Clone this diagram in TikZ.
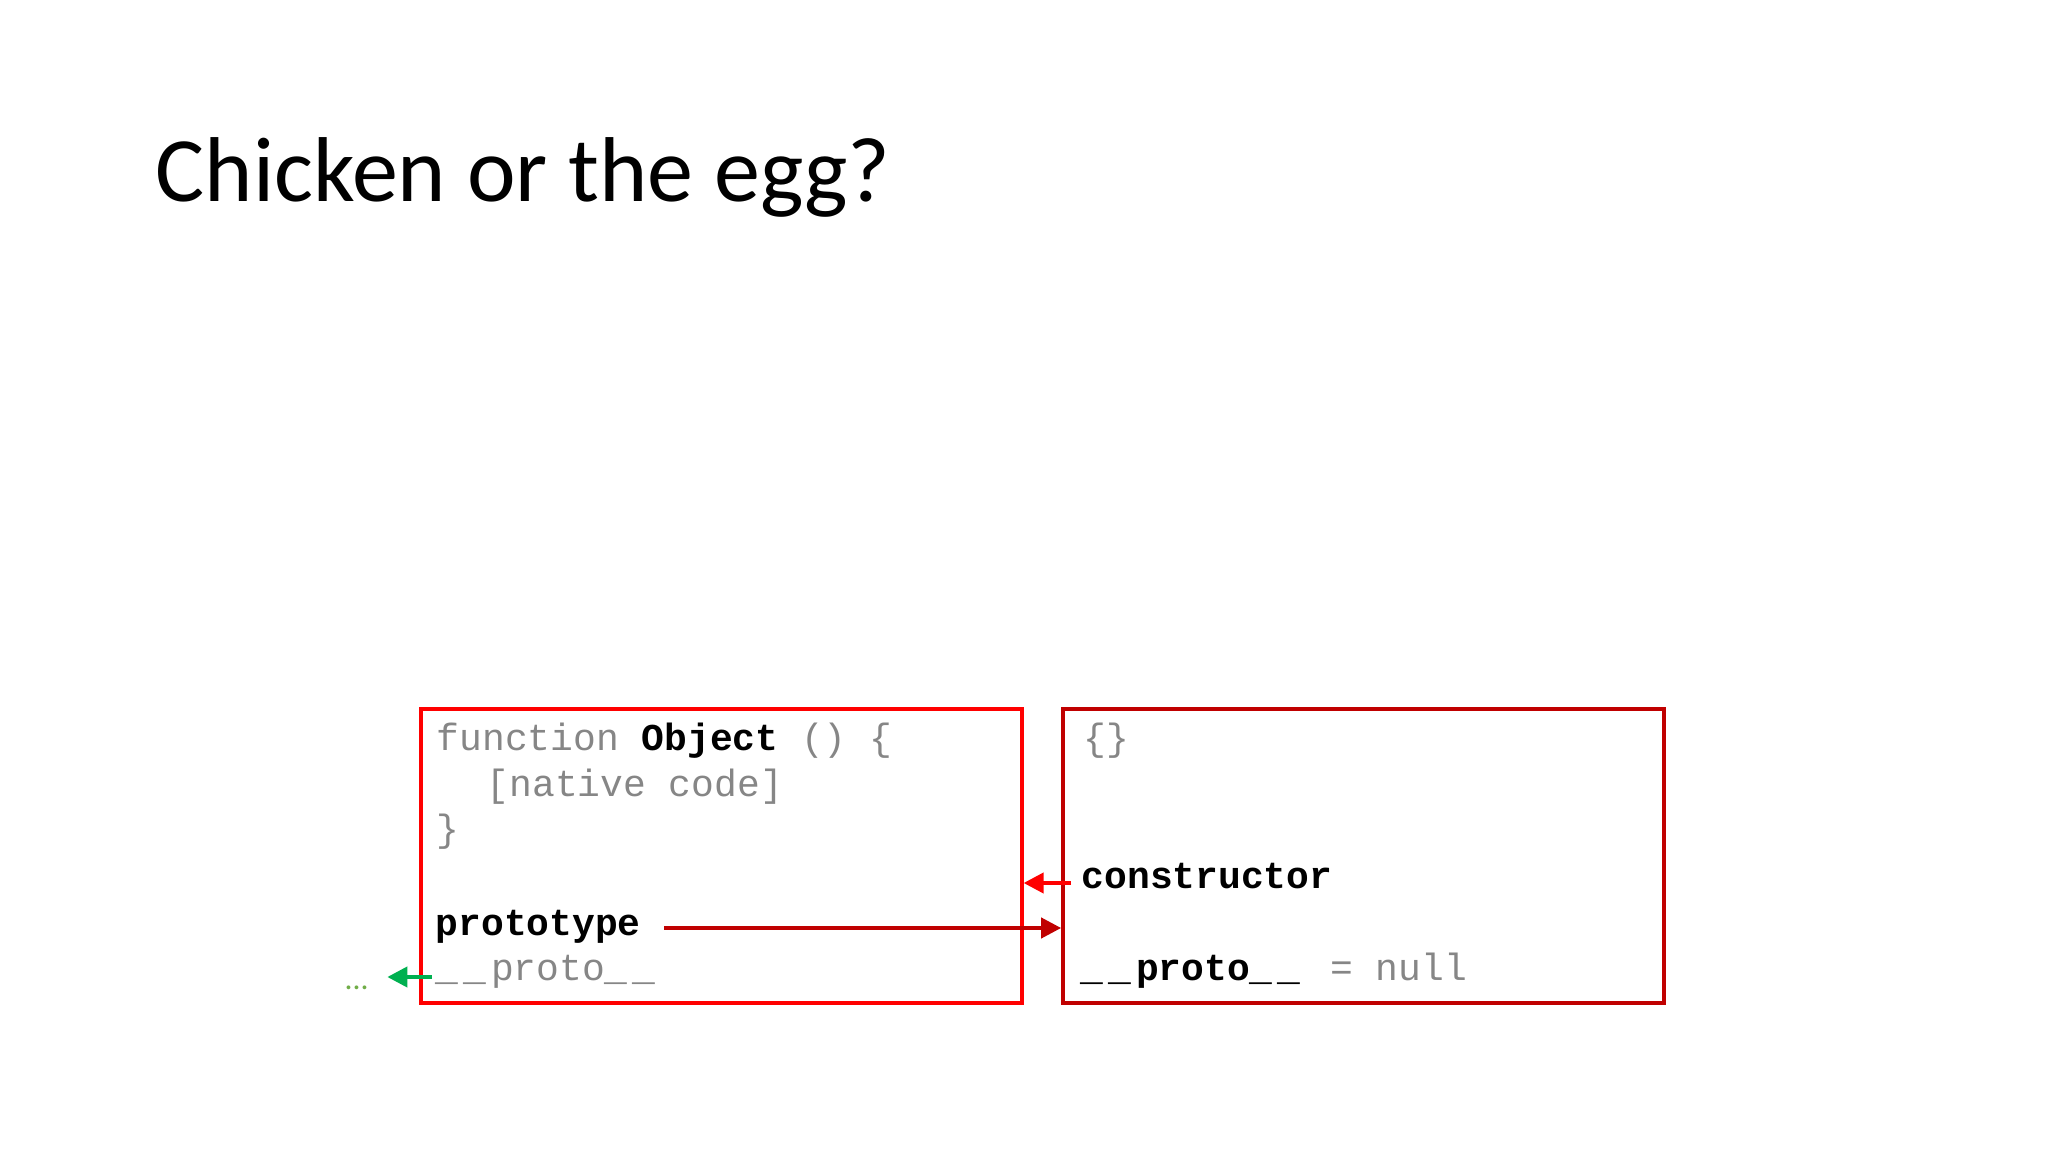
\documentclass[tikz,border=0pt]{standalone}
\usepackage{fontspec}
\setmainfont{Carlito}
\newfontfamily\codefont{Liberation Mono}
\usetikzlibrary{arrows.meta}
\definecolor{boxred}{RGB}{255,0,0}
\definecolor{darkred}{RGB}{192,0,0}
\definecolor{codegray}{RGB}{134,134,134}
\definecolor{arrowgreen}{RGB}{0,176,80}
\definecolor{dotgreen}{RGB}{112,173,71}
\newcommand{\codekey}[1]{\textcolor{black}{\textbf{#1}}}
\newcommand{\usc}{\_\kern1.4pt}

\begin{document}
\begin{tikzpicture}[
    objbox/.style={draw, line width=1.15pt, minimum width=6.01cm, minimum height=2.94cm, inner sep=0pt},
    codeline/.style={anchor=base west, inner sep=0pt, text=codegray, font=\codefont\fontsize{10.8}{13}\selectfont},
    link/.style={line width=1.15pt, -{Triangle[length=2mm, width=2mm]}}
  ]
                    \useasboundingbox (0,0) rectangle (20.48,-11.52);
                    \fill[white] (0,0) rectangle (20.48,-11.52);
                    \node[anchor=base west, inner sep=0pt, font=\fontsize{26.2}{32}\selectfont] (title) at (1.55,-2.02) {Chicken or the egg?};
                    % the two objects
                    \node[objbox, draw=boxred] (fnbox) at (7.211,-8.56) {};
                    \node[objbox, draw=darkred] (nullbox) at (13.637,-8.56) {};
                    % Object function
                    \node[codeline] (fnhead) at (4.36,-7.51) {function \codekey{Object} () \{};
                    \node[codeline] (fnbody) at (4.86,-7.97) {[native code]};
                    \node[codeline] (fnend) at (4.36,-8.42) {\}};
                    \node[codeline] (proto) at (4.35,-9.35) {\codekey{prototype}};
                    \node[codeline] (lproto) at (4.35,-9.80) {\usc\usc proto\usc\_};
                    \node[anchor=base west, inner sep=0pt, text=dotgreen, font=\fontsize{9}{11}\selectfont] (dots) at (3.44,-9.89) {...};
                    % Object.prototype
                    \node[codeline] (braces) at (10.83,-7.51) {\{\}};
                    \node[codeline] (ctor) at (10.81,-8.88) {\codekey{constructor}};
                    \node[codeline] (rproto) at (10.80,-9.80) {\codekey{\usc\usc proto\usc\_}\kern2pt{} = null};
                    % links
                    \draw[link, boxred] ([xshift=-1mm,yshift=0.5mm]ctor.base west) -- ([yshift=0.5mm]ctor.base west -| fnbox.east);
                    \draw[link, darkred] ([xshift=2.3mm,yshift=0.7mm]proto.base east) -- ([yshift=0.7mm]proto.base east -| nullbox.west);
                    \draw[link, arrowgreen] ([xshift=-0.35mm,yshift=0.3mm]lproto.base west) -- ([xshift=1.8mm,yshift=0.3mm]dots.east |- lproto.base west);
                \end{tikzpicture}
\end{document}
